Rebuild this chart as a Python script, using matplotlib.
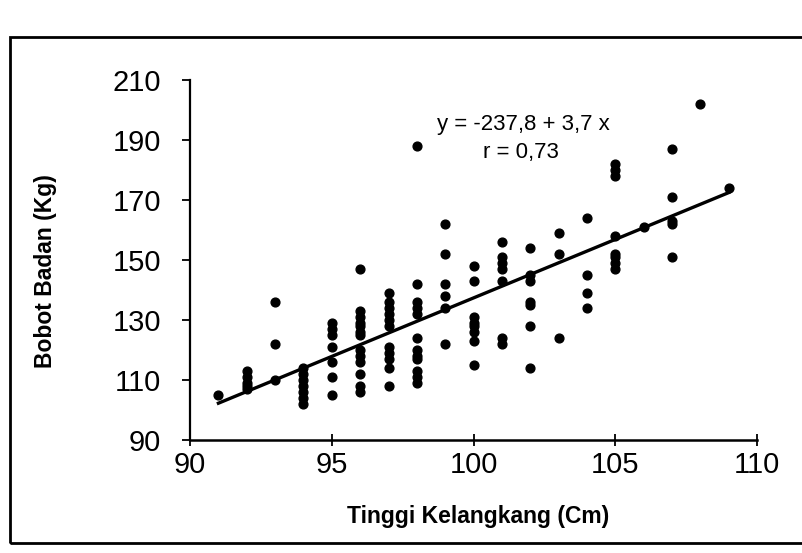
import matplotlib.pyplot as plt
import numpy as np
from matplotlib.patches import Rectangle

plt.rcParams['font.family'] = ['Liberation Sans', 'DejaVu Sans']

# tinggi kelangkang (cm) per kolom titik, dan bobot badan (kg) yang terbaca
tinggi = [91] + [92]*5 + [93]*3 + [94]*7 + [95]*7 + [96]*13 + [97]*11 + [98]*12 \
    + [99]*6 + [100]*8 + [101]*7 + [102]*7 + [103]*3 + [104]*4 + [105]*8 \
    + [106] + [107]*5 + [108] + [109]
bobot = [105,
         113, 111, 109, 108, 107,
         136, 122, 110,
         114, 112, 110, 108, 106, 104, 102,
         129, 127, 125, 121, 116, 111, 105,
         147, 133, 131, 129, 128, 126, 125, 120, 118, 116, 112, 108, 106,
         139, 136, 134, 132, 130, 128, 121, 119, 117, 114, 108,
         188, 142, 136, 134, 132, 124, 120, 118, 117, 113, 111, 109,
         162, 152, 142, 138, 134, 122,
         148, 143, 131, 129, 128, 126, 123, 115,
         156, 151, 149, 147, 143, 124, 122,
         154, 145, 143, 136, 135, 128, 114,
         159, 152, 124,
         164, 145, 139, 134,
         182, 180, 178, 158, 152, 151, 149, 147,
         161,
         187, 171, 163, 162, 151,
         202,
         174]
x_ticks = [90, 95, 100, 105, 110]
y_ticks = [90, 110, 130, 150, 170, 190, 210]
persamaan = "y = -237,8 + 3,7 x"
korelasi = "r = 0,73"

x = np.array(tinggi, dtype=float)
y = np.array(bobot, dtype=float)
b, a = np.polyfit(x, y, 1)

fig = plt.figure(figsize=(8.02, 5.53), dpi=100)
ax = fig.add_axes([0.237, 0.204, 0.707, 0.651])
ax.scatter(x, y, s=40, color='black', zorder=3)
xl = np.array([x.min(), x.max()])
ax.plot(xl, a + b * xl, color='black', lw=2.4)

ax.set_xlim(90, 110)
ax.set_ylim(90, 210)
ax.set_xticks(x_ticks)
ax.set_yticks(y_ticks)
ax.tick_params(axis='x', direction='inout', length=8, width=1.3, pad=4, labelsize=21)
ax.tick_params(axis='y', direction='out', length=6, width=1.3, pad=15, labelsize=21)
ax.spines['top'].set_visible(False)
ax.spines['right'].set_visible(False)
ax.spines['left'].set_linewidth(1.6)
ax.spines['bottom'].set_linewidth(1.8)
ax.set_xlabel("Tinggi Kelangkang (Cm)", fontsize=16.5, fontweight='bold')
ax.set_ylabel("Bobot Badan (Kg)", fontsize=16.5, fontweight='bold')
ax.xaxis.set_label_coords(0.508, -0.18)
ax.yaxis.set_label_coords(-0.235, 0.47)

ax.text(0.587, 0.878, persamaan, transform=ax.transAxes, ha='center', va='center',
        fontsize=16)
ax.text(0.584, 0.80, korelasi, transform=ax.transAxes, ha='center', va='center',
        fontsize=16)

# bingkai hasil pindaian
fig.patches.append(Rectangle((0.012, 0.018), 1.2, 0.915, transform=fig.transFigure,
                             fill=False, lw=2.0, color='black'))

fig.savefig('out.png')
